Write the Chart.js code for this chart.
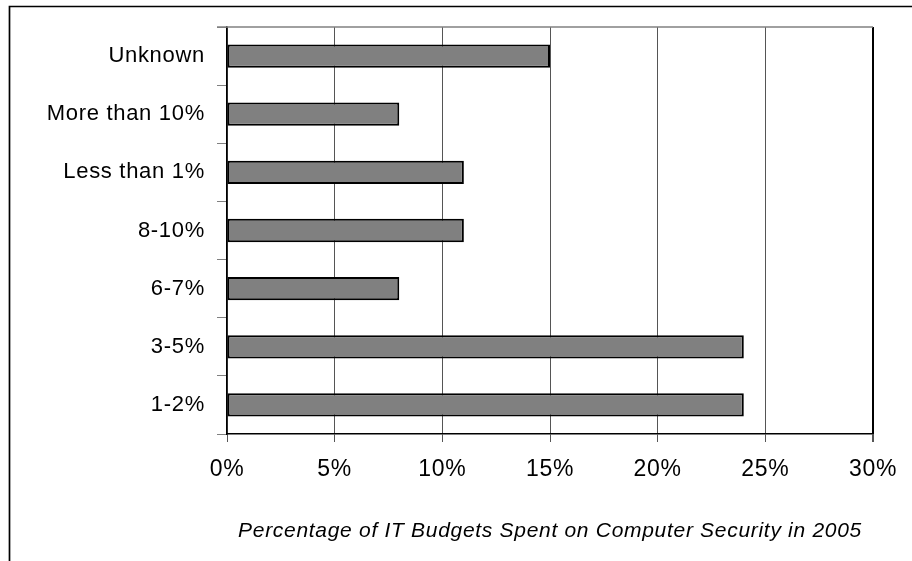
<!DOCTYPE html>
<html>
<head>
<meta charset="utf-8">
<script src="https://cdn.jsdelivr.net/npm/chart.js@4/dist/chart.umd.min.js"></script>
<style>
  html, body { margin: 0; padding: 0; background: #fff; }
  #wrap { width: 912px; height: 561px; position: relative; }
</style>
</head>
<body>
<div id="wrap"><canvas id="c"></canvas></div>
<script>
// budget share categories, top to bottom as drawn
var categories = ['Unknown', 'More than 10%', 'Less than 1%', '8-10%', '6-7%', '3-5%', '1-2%'];
var shares = [15, 8, 11, 11, 8, 24, 24];
var xTicks = [0, 5, 10, 15, 20, 25, 30];
var xTitle = 'Percentage of IT Budgets Spent on Computer Security in 2005';

var FONT = 'Liberation Sans, Arial, sans-serif';

// slightly wider glyph spacing like the original rendering; canvas resets on resize so set it each pass
var spacingPlugin = {
  id: 'spacing',
  beforeLayout: function(chart) { chart.ctx.letterSpacing = '0.7px'; },
  beforeDraw: function(chart) { chart.ctx.letterSpacing = '0.7px'; }
};

var framePlugin = {
  id: 'frame',
  afterDraw: function(chart) {
    var ctx = chart.ctx, a = chart.chartArea;
    ctx.save();
    // top border of plot area, grey
    ctx.strokeStyle = '#808080';
    ctx.lineWidth = 1.5;
    ctx.beginPath();
    ctx.moveTo(a.left - 10, a.top);
    ctx.lineTo(a.right, a.top);
    ctx.stroke();
    // outer figure frame (top and left only)
    ctx.strokeStyle = '#000';
    ctx.lineWidth = 1.7;
    ctx.beginPath();
    ctx.moveTo(9.5, chart.height);
    ctx.lineTo(9.5, 6.5);
    ctx.lineTo(chart.width, 6.5);
    ctx.stroke();
    ctx.restore();
  }
};

new Chart(document.getElementById('c'), {
  type: 'bar',
  data: {
    labels: categories,
    datasets: [{
      data: shares,
      backgroundColor: '#808080',
      borderColor: '#000',
      borderWidth: 2,
      borderSkipped: false,
      categoryPercentage: 1,
      barPercentage: 0.4
    }]
  },
  options: {
    indexAxis: 'y',
    responsive: true,
    maintainAspectRatio: false,
    animation: false,
    layout: { padding: { left: 0, top: 27, right: 39, bottom: 0 } },
    plugins: { legend: { display: false }, tooltip: { enabled: false } },
    scales: {
      x: {
        min: 0,
        max: 30,
        afterBuildTicks: function(scale) {
          scale.ticks = xTicks.map(function(v) { return { value: v }; });
        },
        afterFit: function(scale) { scale.height = 127; },
        ticks: {
          color: '#000',
          font: { family: FONT, size: 23 },
          padding: 14,
          maxRotation: 0,
          callback: function(v) { return v + '%'; }
        },
        grid: {
          color: function(ctx) { return ctx.index === xTicks.length - 1 ? '#000' : '#555'; },
          lineWidth: function(ctx) { return ctx.index === xTicks.length - 1 ? 2 : 1; },
          tickColor: '#555',
          tickLength: 8
        },
        border: { color: '#000', width: 1.5 },
        title: {
          display: true,
          text: xTitle,
          color: '#000',
          font: { family: FONT, size: 21, style: 'italic' },
          padding: { top: 0, bottom: 17 }
        }
      },
      y: {
        afterFit: function(scale) { scale.width = 227; },
        ticks: {
          color: '#000',
          font: { family: FONT, size: 22 },
          padding: 12
        },
        grid: {
          offset: true,
          drawOnChartArea: false,
          color: '#808080',
          tickLength: 10
        },
        border: { color: '#000', width: 1.5 }
      }
    }
  },
  plugins: [spacingPlugin, framePlugin]
});
</script>
</body>
</html>
